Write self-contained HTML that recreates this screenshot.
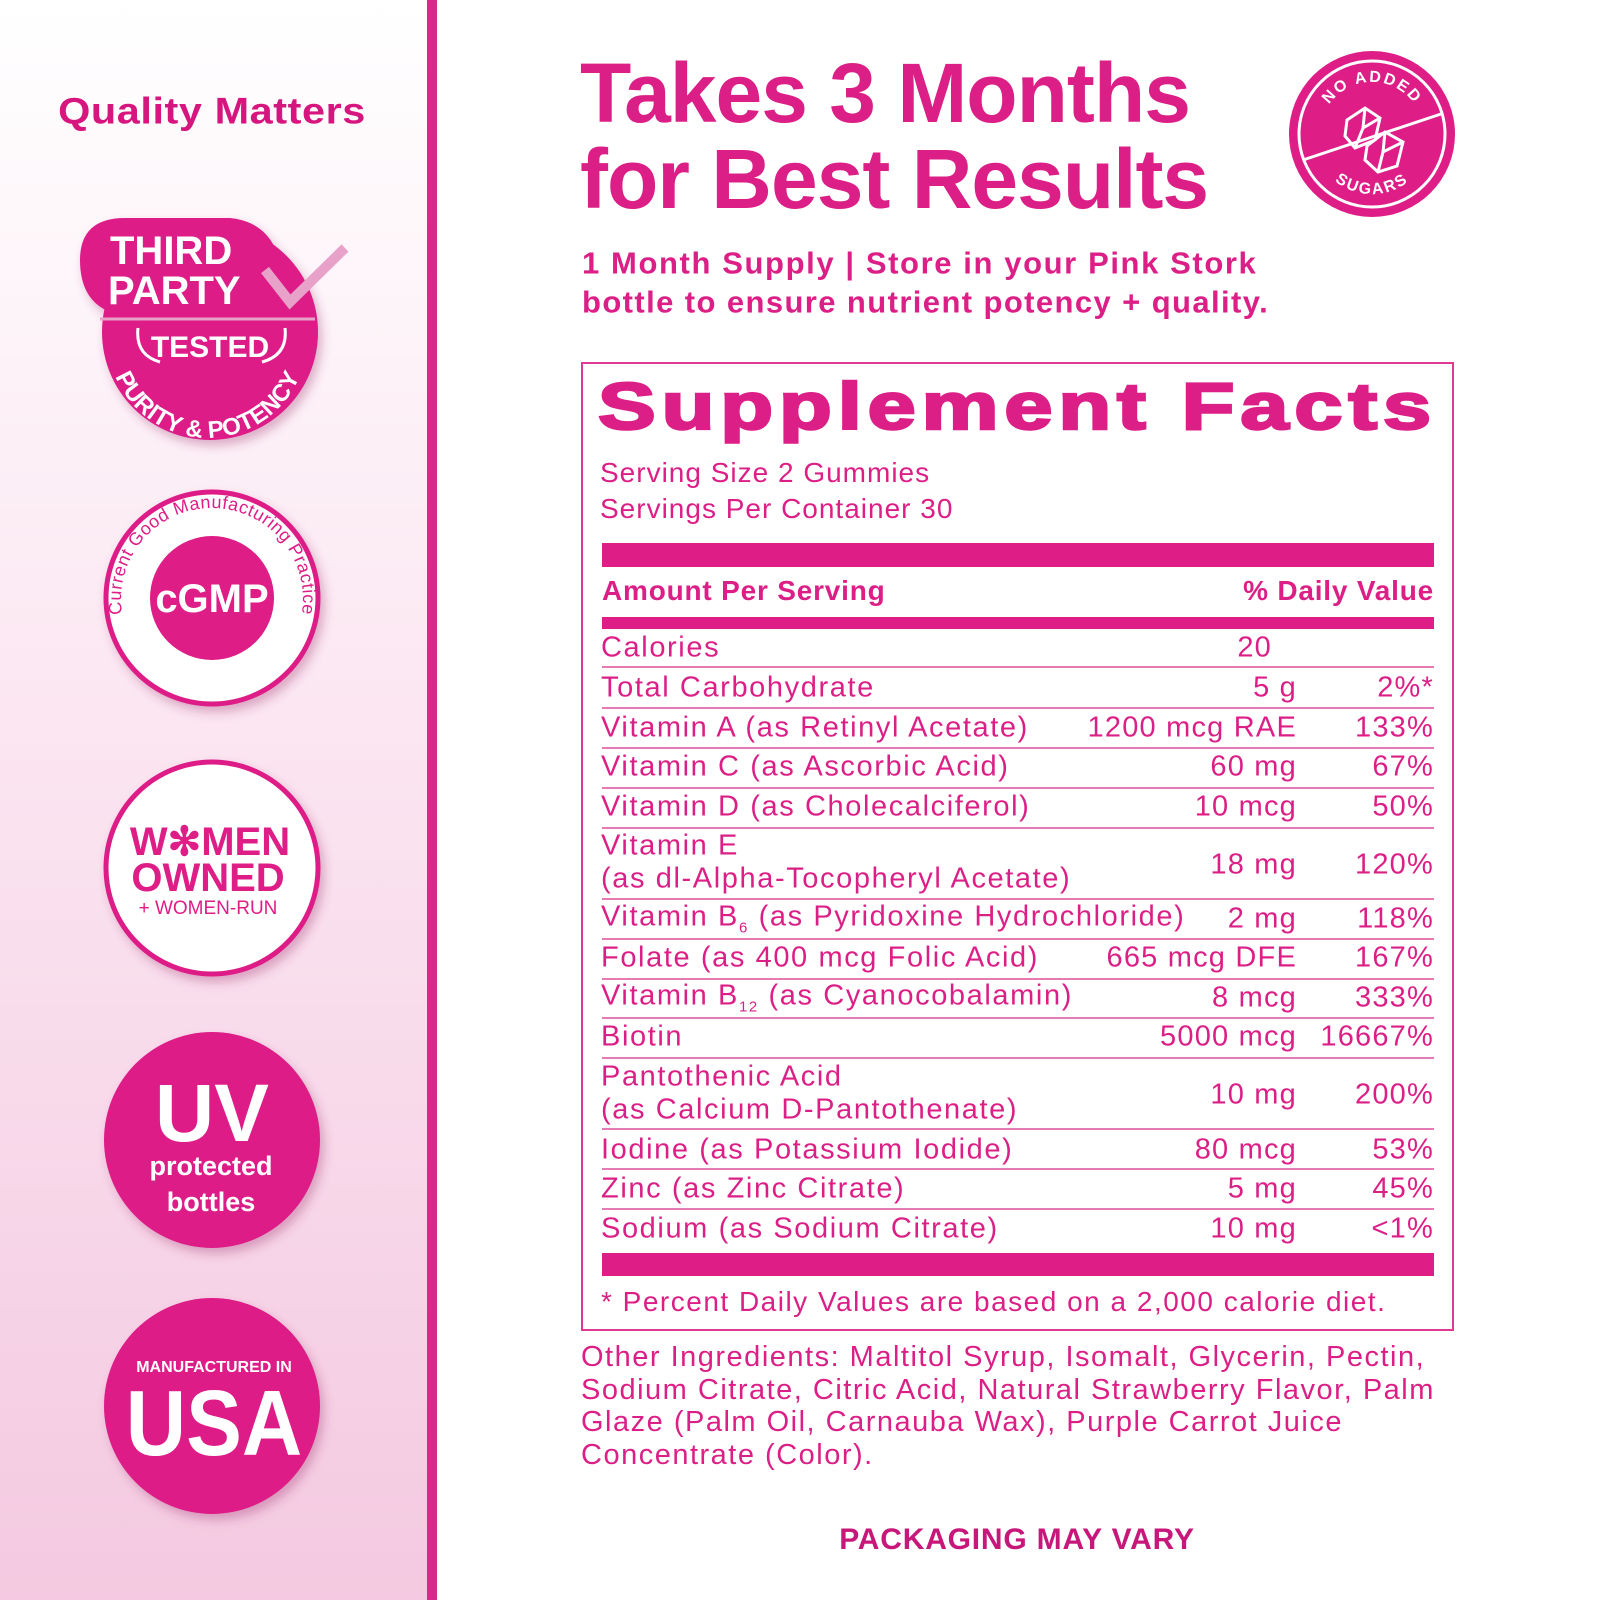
<!DOCTYPE html>
<html><head><meta charset="utf-8"><style>
*{margin:0;padding:0;box-sizing:border-box}
body{width:1600px;height:1600px;position:relative;background:#fff;font-family:"Liberation Sans",sans-serif;color:#dc1f86;overflow:hidden}
.left{position:absolute;left:0;top:0;width:428px;height:1600px;background:linear-gradient(#fff 0%,#fbe6f1 45%,#f4c9e1 100%)}
.vbar{position:absolute;left:427px;top:0;width:10px;height:1600px;background:#d92a8c}
.t{position:absolute;white-space:nowrap;line-height:1}
.c{transform:translate(0,-50%)}
.r{transform:translate(-100%,-50%)}
.m{transform:translate(-50%,-50%)}
.hl{position:absolute;left:602px;width:832px;height:2px;background:#e57ab4}
.row{font-size:29px;letter-spacing:1.6px}
.row .r{letter-spacing:1.2px}
</style></head><body>
<div class="left"></div><div class="vbar"></div>
<div class="t m" style="left:212px;top:111px;font-size:37px;font-weight:bold;color:#d6157f;letter-spacing:0.5px;transform:translate(-50%,-50%) scaleX(1.12)">Quality Matters</div>

<svg style="position:absolute;left:0;top:0" width="440" height="1600">
 <defs><filter id="sh" x="-20%" y="-20%" width="150%" height="150%"><feDropShadow dx="4" dy="6" stdDeviation="5" flood-color="#a0306f" flood-opacity="0.35"/></filter>
 <path id="arcB" d="M110,360 A100,100 0 0 0 305,360"/>
 </defs>
 <g filter="url(#sh)">
  <circle cx="210" cy="332" r="108" fill="#de1d87"/>
  <path d="M80,260 Q80,218 125,218 L230,218 Q270,222 280,262 L280,312 L110,312 Q80,300 80,260Z" fill="#de1d87"/>
 </g>
 <path d="M265,270 L290,302 L345,248" stroke="#e8a2c9" stroke-width="10" fill="none"/>
 <line x1="100" y1="319" x2="315" y2="319" stroke="#e8a2c9" stroke-width="3"/>
 <path d="M138,328 Q135,355 160,362 M285,328 Q288,355 262,362" stroke="#fff" stroke-width="3" fill="none"/>
 <text x="110" y="264" font-size="40" font-weight="bold" fill="#fff" font-family="Liberation Sans">THIRD</text>
 <text x="108" y="304" font-size="40" font-weight="bold" fill="#fff" font-family="Liberation Sans">PARTY</text>
 <text x="210" y="357" font-size="30" font-weight="bold" fill="#fff" text-anchor="middle" font-family="Liberation Sans">TESTED</text>
 <text font-size="24" font-weight="bold" fill="#fff" font-family="Liberation Sans"><textPath href="#arcB" startOffset="50%" text-anchor="middle">PURITY &amp; POTENCY</textPath></text>
 <circle cx="212" cy="598" r="106" fill="#fff" stroke="#de1d87" stroke-width="5" filter="url(#sh)"/>
 <circle cx="212" cy="598" r="62" fill="#de1d87"/>
 <text x="212" y="612" font-size="40" font-weight="bold" fill="#fff" text-anchor="middle" font-family="Liberation Sans">cGMP</text>
 <path id="arcG" d="M138,652 A91,91 0 1 1 286,652" fill="none"/>
 <text font-size="18" fill="#de1d87" font-family="Liberation Sans" letter-spacing="0.5"><textPath href="#arcG" startOffset="50%" text-anchor="middle">Current Good Manufacturing Practice</textPath></text>
 <circle cx="212" cy="868" r="106" fill="#fff" stroke="#de1d87" stroke-width="5" filter="url(#sh)"/>
 <text x="210" y="855" font-size="40" font-weight="bold" fill="#de1d87" text-anchor="middle" font-family="Liberation Sans">W✻MEN</text>
 <text x="208" y="891" font-size="40" font-weight="bold" fill="#de1d87" text-anchor="middle" font-family="Liberation Sans">OWNED</text>
 <text x="208" y="914" font-size="19" fill="#de1d87" text-anchor="middle" font-family="Liberation Sans">+ WOMEN-RUN</text>
 <circle cx="212" cy="1140" r="108" fill="#de1d87" filter="url(#sh)"/>
 <text x="212" y="1141" font-size="82" font-weight="bold" fill="#fff" text-anchor="middle" font-family="Liberation Sans">UV</text>
 <text x="211" y="1175" font-size="27" font-weight="bold" fill="#fff" text-anchor="middle" font-family="Liberation Sans">protected</text>
 <text x="211" y="1211" font-size="27" font-weight="bold" fill="#fff" text-anchor="middle" font-family="Liberation Sans">bottles</text>
 <circle cx="212" cy="1406" r="108" fill="#de1d87" filter="url(#sh)"/>
 <text x="214" y="1372" font-size="16" font-weight="bold" fill="#fff" text-anchor="middle" font-family="Liberation Sans">MANUFACTURED IN</text>
 <text x="214" y="1455" font-size="88" font-weight="bold" fill="#fff" text-anchor="middle" font-family="Liberation Sans" transform="translate(214,1455) scale(0.95,1.05) translate(-214,-1455)">USA</text>
</svg>

<div class="t" style="left:580px;top:50px;font-size:84px;font-weight:bold;color:#dc1f86;line-height:86px;letter-spacing:-1px">Takes 3 Months<br>for Best Results</div>

<svg style="position:absolute;left:1285px;top:48px" width="175" height="175">
 <circle cx="87" cy="86" r="83" fill="#de1d87"/>
 <circle cx="87" cy="86" r="73" fill="none" stroke="#fff" stroke-width="3"/>
 <line x1="18" y1="112" x2="156" y2="66" stroke="#fff" stroke-width="3"/>
 <path d="M62,72 L80,60 L95,70 L90,92 L70,100 L60,88Z M80,60 L78,80 L95,70 M78,80 L70,100" stroke="#fff" stroke-width="3" fill="none"/>
 <path d="M82,98 L100,84 L118,94 L112,118 L93,124 L80,112Z M100,84 L98,104 L118,94 M98,104 L93,124" stroke="#fff" stroke-width="3" fill="none"/>
 <path id="nt" d="M35,86 A52,52 0 0 1 139,86" fill="none"/>
 <path id="nb" d="M27,86 A60,60 0 0 0 147,86" fill="none"/>
 <text font-size="16" font-weight="bold" fill="#fff" letter-spacing="2" font-family="Liberation Sans"><textPath href="#nt" startOffset="50%" text-anchor="middle">NO ADDED</textPath></text>
 <text font-size="16" font-weight="bold" fill="#fff" letter-spacing="2" font-family="Liberation Sans"><textPath href="#nb" startOffset="50%" text-anchor="middle">SUGARS</textPath></text>
</svg>

<div class="t c" style="left:582px;top:263px;font-size:31px;font-weight:bold;letter-spacing:1.6px">1 Month Supply | Store in your Pink Stork</div>
<div class="t c" style="left:582px;top:302px;font-size:31px;font-weight:bold;letter-spacing:1.4px">bottle to ensure nutrient potency + quality.</div>

<div style="position:absolute;left:581px;top:362px;width:873px;height:969px;border:2px solid #de3a94"></div>
<div class="t c" style="left:598px;top:406px;font-size:66px;font-weight:900;letter-spacing:4.5px;-webkit-text-stroke:2.5px #dc1f86;transform-origin:0 50%;transform:translate(0,-50%) scaleX(1.31)">Supplement Facts</div>
<div class="t c" style="left:600px;top:473px;font-size:28px;letter-spacing:1px">Serving Size 2 Gummies</div>
<div class="t c" style="left:600px;top:509px;font-size:28px;letter-spacing:1px">Servings Per Container 30</div>
<div style="position:absolute;left:602px;top:543px;width:832px;height:24px;background:#de1d87"></div>
<div class="t c" style="left:602px;top:591px;font-size:28px;font-weight:bold;letter-spacing:0.8px">Amount Per Serving</div>
<div class="t r" style="left:1434px;top:591px;font-size:28px;font-weight:bold;letter-spacing:0.8px">% Daily Value</div>
<div style="position:absolute;left:602px;top:617px;width:832px;height:12px;background:#de1d87"></div>

<div class="hl" style="top:666px"></div><div class="hl" style="top:707px"></div><div class="hl" style="top:747px"></div><div class="hl" style="top:787px"></div><div class="hl" style="top:827px"></div><div class="hl" style="top:898px"></div><div class="hl" style="top:938px"></div><div class="hl" style="top:978px"></div><div class="hl" style="top:1017px"></div><div class="hl" style="top:1057px"></div><div class="hl" style="top:1128px"></div><div class="hl" style="top:1168px"></div><div class="hl" style="top:1208px"></div>

<div class="row">
<div class="t c" style="left:601px;top:648px">Calories</div><div class="t r" style="left:1272px;top:648px">20</div>
<div class="t c" style="left:601px;top:688px">Total Carbohydrate</div><div class="t r" style="left:1297px;top:688px">5 g</div><div class="t r" style="left:1434px;top:688px">2%*</div>
<div class="t c" style="left:601px;top:728px">Vitamin A (as Retinyl Acetate)</div><div class="t r" style="left:1297px;top:728px">1200 mcg RAE</div><div class="t r" style="left:1434px;top:728px">133%</div>
<div class="t c" style="left:601px;top:767px">Vitamin C (as Ascorbic Acid)</div><div class="t r" style="left:1297px;top:767px">60 mg</div><div class="t r" style="left:1434px;top:767px">67%</div>
<div class="t c" style="left:601px;top:807px">Vitamin D (as Cholecalciferol)</div><div class="t r" style="left:1297px;top:807px">10 mcg</div><div class="t r" style="left:1434px;top:807px">50%</div>
<div class="t c" style="left:601px;top:846px">Vitamin E</div><div class="t c" style="left:601px;top:879px">(as dl-Alpha-Tocopheryl Acetate)</div><div class="t r" style="left:1297px;top:865px">18 mg</div><div class="t r" style="left:1434px;top:865px">120%</div>
<div class="t c" style="left:601px;top:919px">Vitamin B<sub style="font-size:15px">6</sub> (as Pyridoxine Hydrochloride)</div><div class="t r" style="left:1297px;top:919px">2 mg</div><div class="t r" style="left:1434px;top:919px">118%</div>
<div class="t c" style="left:601px;top:958px">Folate (as 400 mcg Folic Acid)</div><div class="t r" style="left:1297px;top:958px">665 mcg DFE</div><div class="t r" style="left:1434px;top:958px">167%</div>
<div class="t c" style="left:601px;top:998px">Vitamin B<sub style="font-size:15px">12</sub> (as Cyanocobalamin)</div><div class="t r" style="left:1297px;top:998px">8 mcg</div><div class="t r" style="left:1434px;top:998px">333%</div>
<div class="t c" style="left:601px;top:1037px">Biotin</div><div class="t r" style="left:1297px;top:1037px">5000 mcg</div><div class="t r" style="left:1434px;top:1037px">16667%</div>
<div class="t c" style="left:601px;top:1077px">Pantothenic Acid</div><div class="t c" style="left:601px;top:1110px">(as Calcium D-Pantothenate)</div><div class="t r" style="left:1297px;top:1095px">10 mg</div><div class="t r" style="left:1434px;top:1095px">200%</div>
<div class="t c" style="left:601px;top:1150px">Iodine (as Potassium Iodide)</div><div class="t r" style="left:1297px;top:1150px">80 mcg</div><div class="t r" style="left:1434px;top:1150px">53%</div>
<div class="t c" style="left:601px;top:1189px">Zinc (as Zinc Citrate)</div><div class="t r" style="left:1297px;top:1189px">5 mg</div><div class="t r" style="left:1434px;top:1189px">45%</div>
<div class="t c" style="left:601px;top:1229px">Sodium (as Sodium Citrate)</div><div class="t r" style="left:1297px;top:1229px">10 mg</div><div class="t r" style="left:1434px;top:1229px">&lt;1%</div>
</div>
<div style="position:absolute;left:602px;top:1253px;width:832px;height:23px;background:#de1d87"></div>
<div class="t c" style="left:601px;top:1302px;font-size:28px;letter-spacing:1.5px">* Percent Daily Values are based on a 2,000 calorie diet.</div>

<div class="t" style="left:581px;top:1341px;font-size:29px;line-height:32.7px;letter-spacing:1.5px">Other Ingredients: Maltitol Syrup, Isomalt, Glycerin, Pectin,<br>Sodium Citrate, Citric Acid, Natural Strawberry Flavor, Palm<br>Glaze (Palm Oil, Carnauba Wax), Purple Carrot Juice<br>Concentrate (Color).</div>

<div class="t m" style="left:1017px;top:1540px;font-size:30px;font-weight:bold;color:#c8177a;letter-spacing:0.8px">PACKAGING MAY VARY</div>
</body></html>
